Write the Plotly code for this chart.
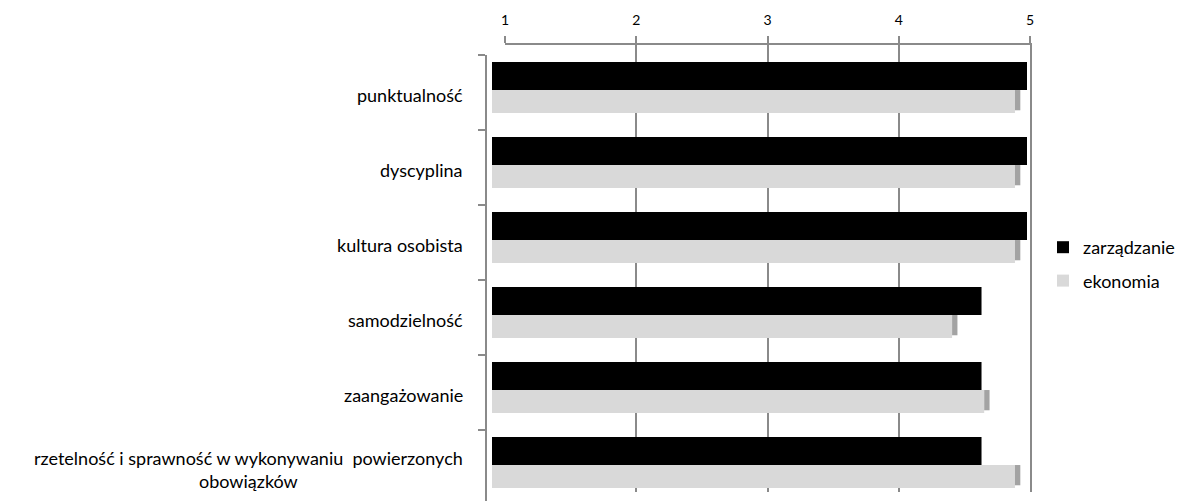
import plotly.graph_objects as go

categories = [
    "punktualność",
    "dyscyplina",
    "kultura osobista",
    "samodzielność",
    "zaangażowanie",
    "rzetelność i sprawność w wykonywaniu  powierzonych<br>obowiązków",
]
zarzadzanie = [5.0, 5.0, 5.0, 4.66, 4.66, 4.66]
ekonomia = [4.95, 4.95, 4.95, 4.48, 4.72, 4.95]
x_ticks = [1, 2, 3, 4, 5]

FONT = "Lato, Calibri, Carlito, sans-serif"
GRID = "#8a8a8a"
BASE = 1
SIDE = 0.04  # depth of the visible side face, in axis units

pos = list(range(len(categories)))

fig = go.Figure()

# empty trace so that the back-wall subplot (gridlines + top ticks) is drawn
fig.add_trace(go.Scatter(x=[], y=[], xaxis="x", yaxis="y", showlegend=False,
                         hoverinfo="skip"))

# front subplot with bars (x2/y2)
fig.add_trace(go.Bar(
    y=pos, x=[v - BASE for v in zarzadzanie], base=BASE, orientation="h",
    name="zarządzanie", marker=dict(color="#000000", line=dict(width=0)),
    offset=-0.407, width=0.374, xaxis="x2", yaxis="y2", legendgroup="a",
))
fig.add_trace(go.Bar(
    y=pos, x=[v - BASE - SIDE for v in ekonomia], base=BASE, orientation="h",
    name="ekonomia", marker=dict(color="#d9d9d9", line=dict(width=0)),
    offset=-0.033, width=0.306, xaxis="x2", yaxis="y2", legendgroup="b",
))
# shaded right side face of the light bars (3-D look)
fig.add_trace(go.Bar(
    y=pos, x=[SIDE] * len(ekonomia), base=[v - SIDE for v in ekonomia],
    orientation="h", showlegend=False, hoverinfo="skip",
    marker=dict(color="#a3a3a3", line=dict(width=0)),
    offset=-0.033, width=0.27, xaxis="x2", yaxis="y2",
))

annotations = []
for i, c in enumerate(categories):
    annotations.append(dict(
        x=-0.04, xref="paper", y=i + 0.03, yref="y2", text=c,
        showarrow=False, xanchor="right", yanchor="middle", align="center",
        font=dict(family=FONT, size=18, color="#000000"),
    ))

W, H = 1177, 493

fig.update_layout(
    width=W, height=H,
    margin=dict(l=479, r=155, t=37, b=0),
    paper_bgcolor="white", plot_bgcolor="rgba(0,0,0,0)",
    font=dict(family=FONT, size=13, color="#000000"),
    barmode="overlay",
    showlegend=True,
    legend=dict(
        x=1035 / W, xref="container", xanchor="left",
        y=(H - 221) / H, yref="container", yanchor="top",
        font=dict(family=FONT, size=18), traceorder="grouped",
        tracegroupgap=7, itemwidth=30, bgcolor="rgba(0,0,0,0)",
    ),
    # back wall axes (gridlines, top ticks, right frame)
    xaxis=dict(
        domain=[18 / 543, 1], range=[1, 5], side="top",
        tickvals=x_ticks, ticktext=[str(t) for t in x_ticks],
        showgrid=True, gridcolor=GRID, gridwidth=1.5,
        showline=True, linecolor=GRID, linewidth=1.5,
        ticks="outside", ticklen=7, tickcolor=GRID, tickwidth=1.5,
        ticklabelstandoff=6, zeroline=False,
        tickfont=dict(family=FONT, size=14), anchor="y",
    ),
    yaxis=dict(
        domain=[9 / 456, 1], range=[0, 1], side="right",
        showline=True, linecolor=GRID, linewidth=1.5,
        showticklabels=False, ticks="", showgrid=False, zeroline=False,
        anchor="x",
    ),
    # front axes (bars)
    xaxis2=dict(
        domain=[0, 1], range=[1 - 5 / 133.75, 1 - 5 / 133.75 + 543 / 133.75],
        visible=False, anchor="y2",
    ),
    yaxis2=dict(
        domain=[0, 446 / 456], range=[-0.5 + 446 / 75, -0.5],
        tickvals=[-0.5, 0.5, 1.5, 2.5, 3.5, 4.5], showticklabels=False,
        ticks="outside", ticklen=7, tickcolor=GRID, tickwidth=1.5,
        showline=True, linecolor=GRID, linewidth=1.5,
        showgrid=False, zeroline=False, anchor="x2",
    ),
    annotations=annotations,
)

fig.write_html("out.html")
